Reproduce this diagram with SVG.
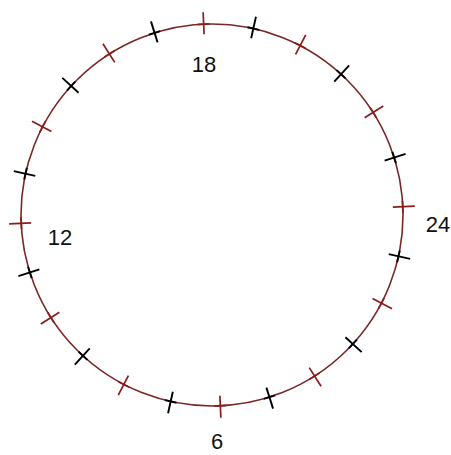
<svg xmlns="http://www.w3.org/2000/svg" xmlns:xlink="http://www.w3.org/1999/xlink" width="451" height="455" viewBox="0 0 451 455">
<style>
.ring{fill:none;stroke:#7a2626;stroke-width:1.6}
.red line{stroke:#8a1c1c;stroke-width:1.7}
.blk line{stroke:#000;stroke-width:1.9}
.lbl{font-family:"Liberation Sans",Arial,sans-serif;font-size:22px;fill:#111;text-anchor:middle}
</style>
<defs>
<g id="tr" class="red"><line x1="393" y1="215" x2="415" y2="215"/><line x1="403" y1="209" x2="403" y2="221"/></g>
<g id="tb" class="blk"><line x1="393" y1="215" x2="415" y2="215"/><line x1="403" y1="209" x2="403" y2="221"/></g>
</defs>
<rect width="451" height="455" fill="#fff"/>
<circle class="ring" cx="212" cy="215" r="191"/>
<g id="ticks">
<use xlink:href="#tr" transform="rotate(-2.5 212 215)"/>
<use xlink:href="#tb" transform="rotate(12.5 212 215)"/>
<use xlink:href="#tr" transform="rotate(27.5 212 215)"/>
<use xlink:href="#tb" transform="rotate(42.5 212 215)"/>
<use xlink:href="#tr" transform="rotate(57.5 212 215)"/>
<use xlink:href="#tb" transform="rotate(72.5 212 215)"/>
<use xlink:href="#tr" transform="rotate(87.5 212 215)"/>
<use xlink:href="#tb" transform="rotate(102.5 212 215)"/>
<use xlink:href="#tr" transform="rotate(117.5 212 215)"/>
<use xlink:href="#tb" transform="rotate(132.5 212 215)"/>
<use xlink:href="#tr" transform="rotate(147.5 212 215)"/>
<use xlink:href="#tb" transform="rotate(162.5 212 215)"/>
<use xlink:href="#tr" transform="rotate(177.5 212 215)"/>
<use xlink:href="#tb" transform="rotate(192.5 212 215)"/>
<use xlink:href="#tr" transform="rotate(207.5 212 215)"/>
<use xlink:href="#tb" transform="rotate(222.5 212 215)"/>
<use xlink:href="#tr" transform="rotate(237.5 212 215)"/>
<use xlink:href="#tb" transform="rotate(252.5 212 215)"/>
<use xlink:href="#tr" transform="rotate(267.5 212 215)"/>
<use xlink:href="#tb" transform="rotate(282.5 212 215)"/>
<use xlink:href="#tr" transform="rotate(297.5 212 215)"/>
<use xlink:href="#tb" transform="rotate(312.5 212 215)"/>
<use xlink:href="#tr" transform="rotate(327.5 212 215)"/>
<use xlink:href="#tb" transform="rotate(342.5 212 215)"/>
</g>
<g id="labels">
<text class="lbl" x="204" y="72">18</text>
<text class="lbl" x="60" y="245">12</text>
<text class="lbl" x="438" y="232">24</text>
<text class="lbl" x="217" y="449">6</text>
</g>
</svg>
